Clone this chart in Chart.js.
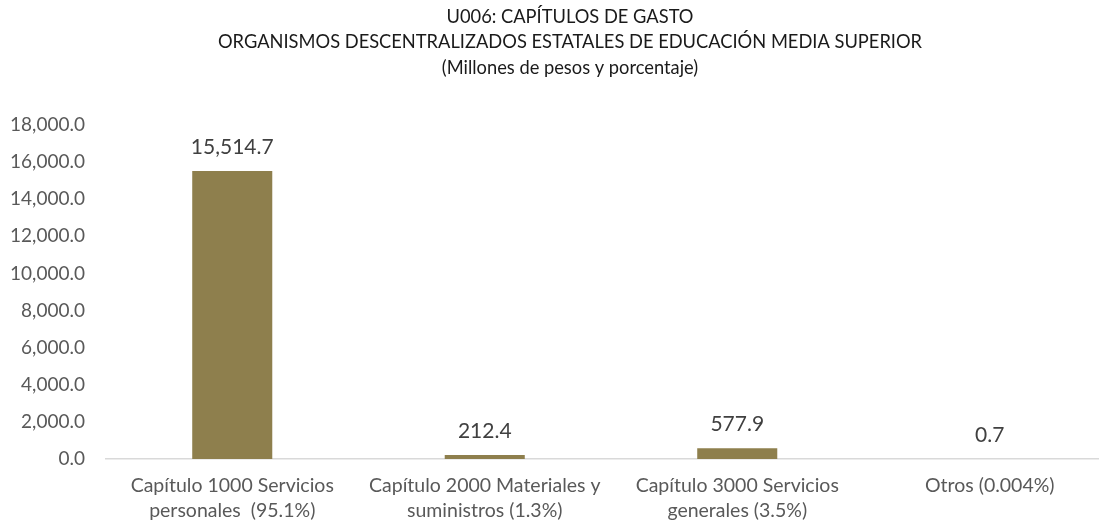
<!DOCTYPE html>
<html>
<head>
<meta charset="utf-8">
<script src="https://cdn.jsdelivr.net/npm/chart.js@4.4.1/dist/chart.umd.min.js"></script>
<style>
  html, body { margin: 0; padding: 0; background: #fff; overflow: hidden; width: 1099px; height: 521px; }
  #wrap { position: absolute; left: 0; top: 0; width: 1116px; height: 521px; }
</style>
</head>
<body>
<div id="wrap"><canvas id="c" width="1116" height="521"></canvas></div>
<script>
const titleLines = [
  'U006: CAPÍTULOS DE GASTO',
  'ORGANISMOS DESCENTRALIZADOS ESTATALES DE EDUCACIÓN MEDIA SUPERIOR',
  '(Millones de pesos y porcentaje)'
];
const categories = [
  ['Capítulo 1000 Servicios', 'personales  (95.1%)'],
  ['Capítulo 2000 Materiales y', 'suministros (1.3%)'],
  ['Capítulo 3000 Servicios', 'generales (3.5%)'],
  ['Otros (0.004%)']
];
const values = [15514.7, 212.4, 577.9, 0.7];
const yMin = 0, yMax = 18000, yStep = 2000;

const fmt = v => Number(v).toLocaleString('en-US', {minimumFractionDigits: 1, maximumFractionDigits: 1});

const FONT = 'Lato, "Open Sans", sans-serif';

const dataLabels = {
  id: 'dataLabels',
  afterDatasetsDraw(chart) {
    const ctx = chart.ctx;
    const meta = chart.getDatasetMeta(0);
    ctx.save();
    ctx.font = '21px ' + FONT;
    ctx.fillStyle = '#404040';
    ctx.textAlign = 'center';
    ctx.textBaseline = 'middle';
    meta.data.forEach((bar, i) => {
      ctx.fillText(fmt(values[i]), bar.x, bar.y - 24);
    });
    ctx.restore();
  }
};

const titleBlock = {
  id: 'titleBlock',
  afterDraw(chart) {
    const ctx = chart.ctx;
    ctx.save();
    ctx.font = '18.3px ' + FONT;
    ctx.fillStyle = '#1a1a1a';
    ctx.textAlign = 'center';
    ctx.textBaseline = 'middle';
    const cx = 570, y0 = 17, lh = 25.5;
    titleLines.forEach((t, i) => ctx.fillText(t, cx, y0 + i * lh));
    ctx.restore();
  }
};

new Chart(document.getElementById('c'), {
  type: 'bar',
  data: {
    labels: categories,
    datasets: [{
      data: values,
      backgroundColor: '#8E7F4D',
      barPercentage: 0.317,
      categoryPercentage: 1.0
    }]
  },
  options: {
    responsive: false,
    animation: false,
    layout: { padding: { left: 0, right: 0, top: 125, bottom: 0 } },
    plugins: {
      legend: { display: false },
      tooltip: { enabled: false },
      title: { display: false }
    },
    scales: {
      x: {
        grid: { display: false },
        border: { display: true, color: '#D9D9D9', width: 1.5 },
        ticks: {
          color: '#595959',
          font: { family: FONT, size: 19.5, lineHeight: 1.28 },
          padding: 6,
          maxRotation: 0,
          autoSkip: false
        },
        afterFit(s) { s.height = 62; }
      },
      y: {
        min: yMin, max: yMax,
        grid: { display: false },
        border: { display: false },
        ticks: {
          stepSize: yStep,
          color: '#595959',
          font: { family: FONT, size: 19 },
          padding: 13,
          callback: v => fmt(v)
        },
        afterFit(s) { s.width = 106; }
      }
    }
  },
  plugins: [dataLabels, titleBlock]
});
</script>
</body>
</html>
